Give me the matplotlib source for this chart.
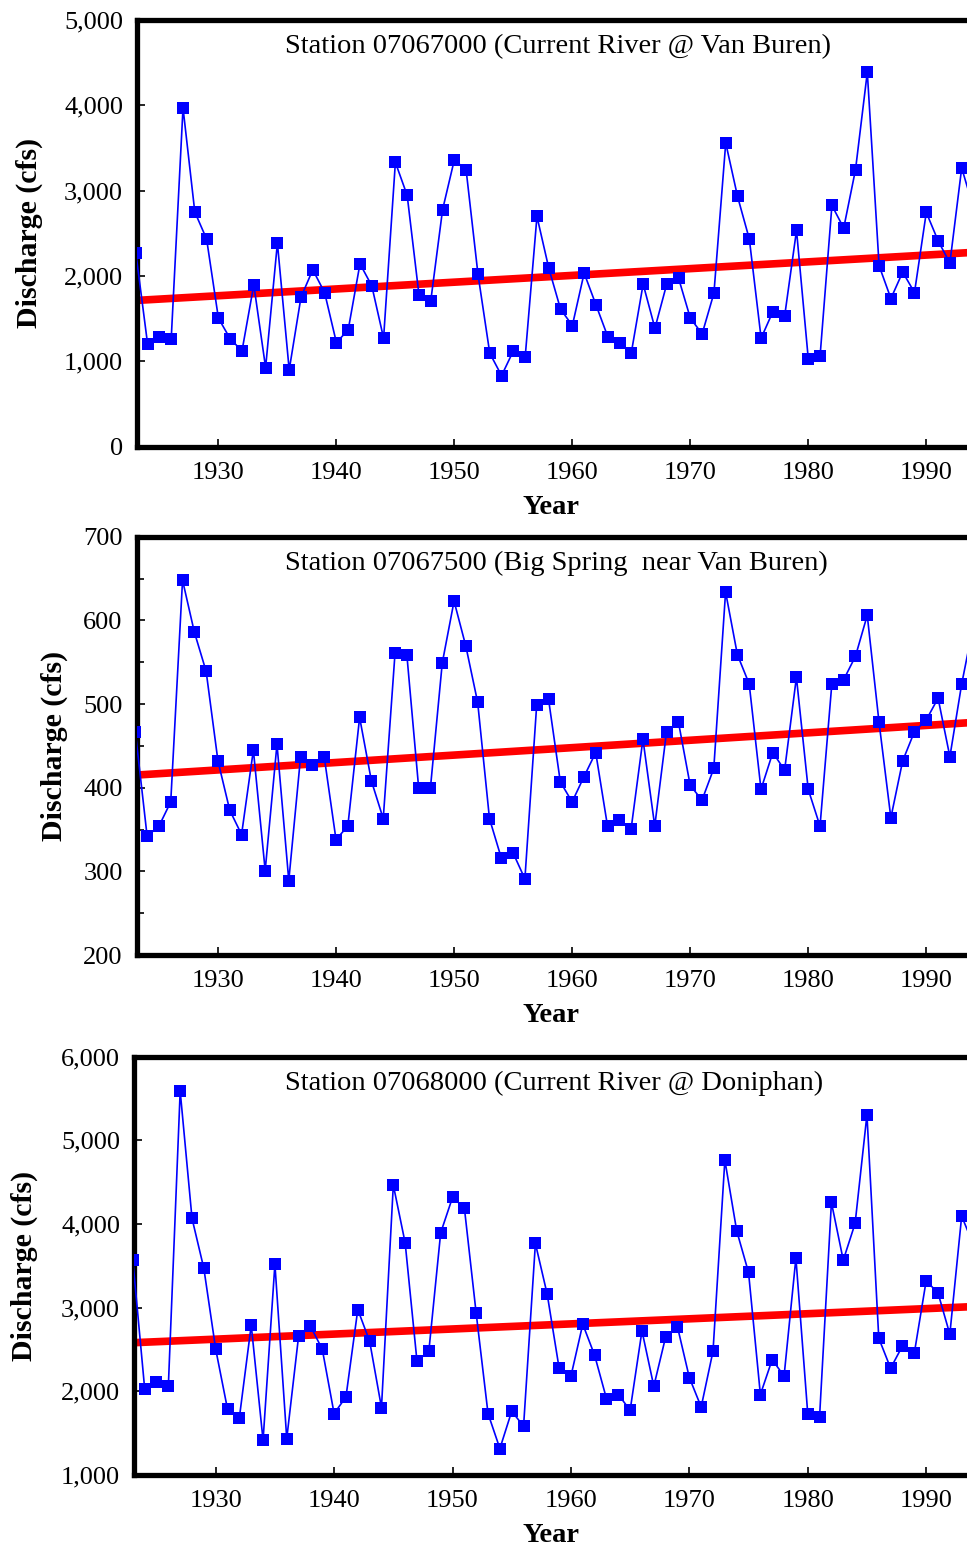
import matplotlib
matplotlib.use("Agg")
import matplotlib.pyplot as plt
from matplotlib.ticker import FuncFormatter, MultipleLocator

plt.rcParams['font.family'] = ['Liberation Serif', 'DejaVu Serif']

years = list(range(1923, 1995))

# annual mean discharge (cfs)
van_buren = [2271, 1199, 1289, 1262, 3970, 2749, 2432, 1505, 1262, 1121,
             1896, 925, 2385, 898, 1751, 2072, 1805, 1219, 1367, 2142,
             1884, 1270, 3331, 2944, 1778, 1708, 2776, 3363, 3237, 2021,
             1094, 831, 1121, 1047, 2697, 2092, 1610, 1418, 2033, 1661,
             1289, 1211, 1101, 1904, 1387, 1904, 1974, 1505, 1320, 1798,
             3559, 2932, 2432, 1270, 1582, 1535, 2533, 1023, 1066, 2826,
             2561, 3245, 4387, 2119, 1735, 2045, 1805, 2744, 2412, 2150,
             3265, 2800]

big_spring = [467, 342, 354, 383, 648, 586, 539, 432, 373, 344,
              445, 301, 452, 289, 437, 427, 437, 338, 354, 484,
              408, 363, 561, 559, 400, 400, 549, 623, 569, 502,
              363, 316, 322, 291, 499, 506, 407, 383, 413, 442,
              354, 361, 351, 458, 354, 467, 479, 403, 385, 423,
              634, 559, 524, 398, 442, 421, 532, 398, 354, 524,
              529, 557, 606, 478, 364, 432, 467, 481, 507, 437,
              524, 595]

doniphan = [3568, 2033, 2113, 2061, 5590, 4067, 3469, 2504, 1786, 1687,
            2791, 1415, 3520, 1435, 2659, 2779, 2504, 1734, 1933, 2978,
            2599, 1806, 4466, 3775, 2360, 2480, 3895, 4318, 4194, 2931,
            1734, 1316, 1762, 1583, 3768, 3158, 2280, 2181, 2803, 2432,
            1914, 1962, 1774, 2723, 2061, 2651, 2770, 2165, 1813, 2480,
            4764, 3919, 3421, 1962, 2380, 2181, 3592, 1734, 1699, 4258,
            3568, 4007, 5306, 2635, 2276, 2543, 2456, 3321, 3177, 2683,
            4094, 3750]

# linear trend end points
trend_years = [1923, 1994]
van_buren_trend = [1712, 2276]
big_spring_trend = [415, 478]
doniphan_trend = [2581, 3013]

titles = ["Station 07067000 (Current River @ Van Buren)",
          "Station 07067500 (Big Spring  near Van Buren)",
          "Station 07068000 (Current River @ Doniphan)"]

W, H = 967, 1553
fig = plt.figure(figsize=(W / 100, H / 100), dpi=100)

# pixel boxes: left, top, bottom of each panel
boxes = [(137, 20, 446.5), (136.5, 536.7, 955), (134, 1056.7, 1475)]
ylims = [(0, 5000), (200, 700), (1000, 6000)]
ysteps = [1000, 100, 1000]
ylabel_right = [43, 68, 38]
series = [(van_buren, van_buren_trend), (big_spring, big_spring_trend),
          (doniphan, doniphan_trend)]

for i in range(3):
    left, top, bottom = boxes[i]
    ax = fig.add_axes([left / W, 1 - bottom / H, (W - left) / W, (bottom - top) / H])
    vals, trend = series[i]

    ax.plot(trend_years, trend, color='#ff0000', lw=5.5, solid_capstyle='butt', zorder=2)
    ax.plot(years, vals, color='#0000ff', lw=1.2, marker='s', ms=8,
            markeredgewidth=0, zorder=3)

    ax.set_xlim(1923.1, 1993.45)
    ax.set_ylim(*ylims[i])
    ax.xaxis.set_major_locator(MultipleLocator(10))
    ax.yaxis.set_major_locator(MultipleLocator(ysteps[i]))
    if i == 1:
        ax.yaxis.set_minor_locator(MultipleLocator(50))
    ax.yaxis.set_major_formatter(FuncFormatter(lambda v, p: f"{v:,.0f}"))

    for s in ['left', 'bottom', 'top']:
        ax.spines[s].set_linewidth(3.8)
    ax.spines['right'].set_visible(False)
    ax.tick_params(which='both', direction='in', length=6, width=1.2,
                   labelsize=19, pad=10, colors='black')
    ax.tick_params(axis='x', pad=11)
    ax.tick_params(which='minor', length=5)

    ax.set_ylabel("Discharge (cfs)", fontsize=21.5, fontweight='bold')
    ax.yaxis.set_label_coords((ylabel_right[i] - left) / (W - left), 0.5)
    ax.set_xlabel("Year", fontsize=20.5, fontweight='bold')
    ax.xaxis.set_label_coords((551 - left) / (W - left), -(495 - 446.5) / 426.5)

    ax.text((285 - left) / (W - left), 0.937, titles[i], transform=ax.transAxes,
            ha='left', va='center', fontsize=20.5)

fig.savefig("out.png", dpi=100)
